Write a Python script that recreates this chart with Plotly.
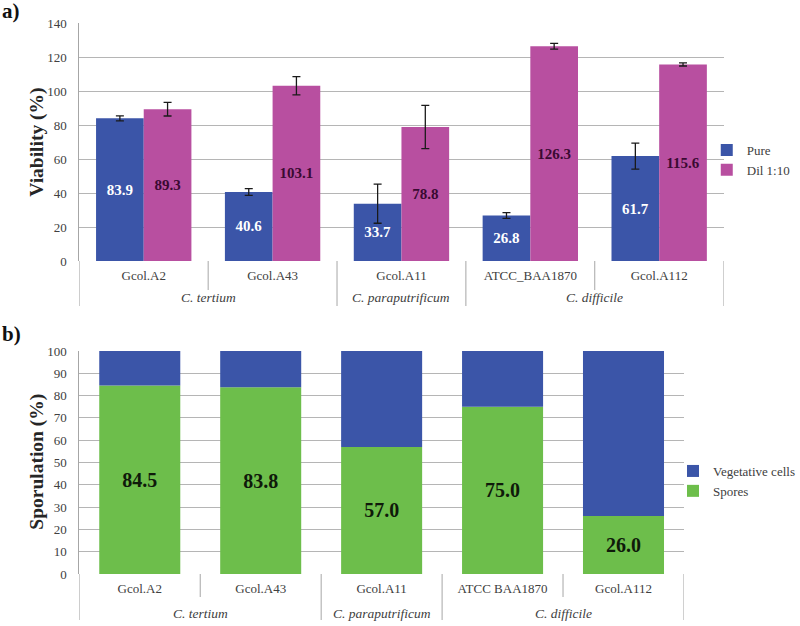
import plotly.graph_objects as go

# ---------------- data ----------------
strains_a = ["Gcol.A2", "Gcol.A43", "Gcol.A11", "ATCC_BAA1870", "Gcol.A112"]
strains_b = ["Gcol.A2", "Gcol.A43", "Gcol.A11", "ATCC BAA1870", "Gcol.A112"]
species = ["C. tertium", "C. paraputrificum", "C. difficile"]
species_counts = [2, 1, 2]

pure = [83.9, 40.6, 33.7, 26.8, 61.7]
pure_err = [1.5, 2.0, 11.5, 1.7, 7.6]
dil = [89.3, 103.1, 78.8, 126.3, 115.6]
dil_err = [4.0, 5.4, 12.7, 1.7, 0.9]

spores = [84.5, 83.8, 57.0, 75.0, 26.0]
vegetative = [15.5, 16.2, 43.0, 25.0, 74.0]

ticks_a = [0, 20, 40, 60, 80, 100, 120, 140]
ticks_b = [0, 10, 20, 30, 40, 50, 60, 70, 80, 90, 100]

# ---------------- style ----------------
W, H = 800, 626
FONT = "Liberation Serif, Times New Roman, serif"
BLUE = "#3B55A8"
MAGENTA = "#B84FA0"
GREEN = "#6DBE4B"
GRID = "#B5B5B5"
AXIS = "#A6A6A6"
TXT = "#404040"

def px_x(p):
    return p / W

def px_y(p):
    return 1 - p / H

xa = [px_x(80), px_x(730)]
ya = [px_y(261), px_y(23)]
xb = [px_x(80), px_x(690)]
yb = [px_y(574), px_y(351)]

fig = go.Figure()

fig.add_trace(go.Bar(
    x=strains_a, y=pure, name="Pure", marker_color=BLUE,
    error_y=dict(type="data", array=pure_err, color="#1a1a1a", thickness=1.3, width=4),
    texttemplate="%{y:.1f}", textposition="inside", insidetextanchor="middle",
    constraintext="none",
    textfont=dict(family=FONT, size=15, color="white", weight="bold"),
    xaxis="x", yaxis="y", legend="legend",
))
fig.add_trace(go.Bar(
    x=strains_a, y=dil, name="Dil 1:10", marker_color=MAGENTA,
    error_y=dict(type="data", array=dil_err, color="#1a1a1a", thickness=1.3, width=4),
    texttemplate="%{y:.1f}", textposition="inside", insidetextanchor="middle",
    constraintext="none",
    textfont=dict(family=FONT, size=15, color="#3a0a32", weight="bold"),
    xaxis="x", yaxis="y", legend="legend",
))

fig.add_trace(go.Bar(
    x=strains_b, y=spores, name="Spores", marker_color=GREEN,
    texttemplate="%{y:.1f}", textposition="inside", insidetextanchor="middle",
    constraintext="none",
    textfont=dict(family=FONT, size=20, color="#0f1a0a", weight="bold"),
    xaxis="x2", yaxis="y2", legend="legend2",
    offsetgroup="s", width=0.67,
))
fig.add_trace(go.Bar(
    x=strains_b, y=vegetative, base=spores, name="Vegetative cells", marker_color=BLUE,
    textposition="none",
    xaxis="x2", yaxis="y2", legend="legend2",
    offsetgroup="s", width=0.67,
))

common_x = dict(
    type="category", showgrid=False, showline=False, ticks="",
    tickfont=dict(family=FONT, size=13, color=TXT), zeroline=False,
    ticklabelstandoff=5,
)
common_y = dict(
    showgrid=True, gridcolor=GRID, gridwidth=1, showline=True, linecolor=AXIS,
    linewidth=1, ticks="", tickfont=dict(family=FONT, size=13, color=TXT),
    zeroline=False, ticklabelstandoff=9,
)

fig.update_layout(
    template="none",
    width=W, height=H,
    margin=dict(l=0, r=0, t=0, b=0, pad=0),
    paper_bgcolor="white", plot_bgcolor="white",
    font=dict(family=FONT, color=TXT, size=13),
    barmode="group",
    bargap=0.26, bargroupgap=0,
    xaxis=dict(common_x, domain=xa, anchor="y", range=[-0.5, 4.5]),
    yaxis=dict(common_y, domain=ya, anchor="x", range=[0, 140], tickvals=ticks_a),
    xaxis2=dict(common_x, domain=xb, anchor="y2", range=[-0.5, 4.5]),
    yaxis2=dict(common_y, domain=yb, anchor="x2", range=[0, 100], tickvals=ticks_b),
    showlegend=True,
    legend=dict(x=px_x(713), y=px_y(160), xanchor="left", yanchor="middle",
                font=dict(family=FONT, size=13, color=TXT), bgcolor="rgba(0,0,0,0)",
                itemwidth=30, tracegroupgap=0, traceorder="normal"),
    legend2=dict(x=px_x(679), y=px_y(481), xanchor="left", yanchor="middle",
                 font=dict(family=FONT, size=13, color=TXT), bgcolor="rgba(0,0,0,0)",
                 itemwidth=30, traceorder="reversed"),
)

shapes = []
annotations = []

def add_separators(xref, y_axis_px, short_px, long_px, counts):
    n = sum(counts)
    group_edges = {-0.5}
    acc = 0
    for c in counts:
        acc += c
        group_edges.add(acc - 0.5)
    for i in range(n + 1):
        b = i - 0.5
        bottom = long_px if b in group_edges else short_px
        shapes.append(dict(type="line", xref=xref, yref="paper", x0=b, x1=b,
                           y0=px_y(y_axis_px), y1=px_y(bottom),
                           line=dict(color=AXIS, width=1)))

def add_species(xref, ypx, counts):
    acc = 0
    for name, c in zip(species, counts):
        center = acc + (c - 1) / 2
        acc += c
        annotations.append(dict(text=name, xref=xref, yref="paper", x=center,
                                y=px_y(ypx), showarrow=False, xanchor="center",
                                yanchor="middle",
                                font=dict(family=FONT, size=13.5, color=TXT, style="italic")))

add_separators("x", 261, 290, 306, species_counts)
add_separators("x2", 574, 597, 620, species_counts)
add_species("x", 297, species_counts)
add_species("x2", 613, species_counts)

annotations += [
    dict(text="<b>Viability (%)</b>", xref="paper", yref="paper", x=px_x(37), y=px_y(142),
         textangle=-90, showarrow=False, xanchor="center", yanchor="middle",
         font=dict(family=FONT, size=19.5, color="#262626")),
    dict(text="<b>Sporulation (%)</b>", xref="paper", yref="paper", x=px_x(37), y=px_y(462),
         textangle=-90, showarrow=False, xanchor="center", yanchor="middle",
         font=dict(family=FONT, size=19.5, color="#262626")),
    dict(text="<b>a)</b>", xref="paper", yref="paper", x=0, y=px_y(11),
         showarrow=False, xanchor="left", yanchor="middle",
         font=dict(family=FONT, size=21, color="#111")),
    dict(text="<b>b)</b>", xref="paper", yref="paper", x=0, y=px_y(334),
         showarrow=False, xanchor="left", yanchor="middle",
         font=dict(family=FONT, size=21, color="#111")),
]

fig.update_layout(shapes=shapes, annotations=annotations)

fig.write_html("out.html", post_script="document.body.style.margin='0px';",
               config={"displayModeBar": False})
